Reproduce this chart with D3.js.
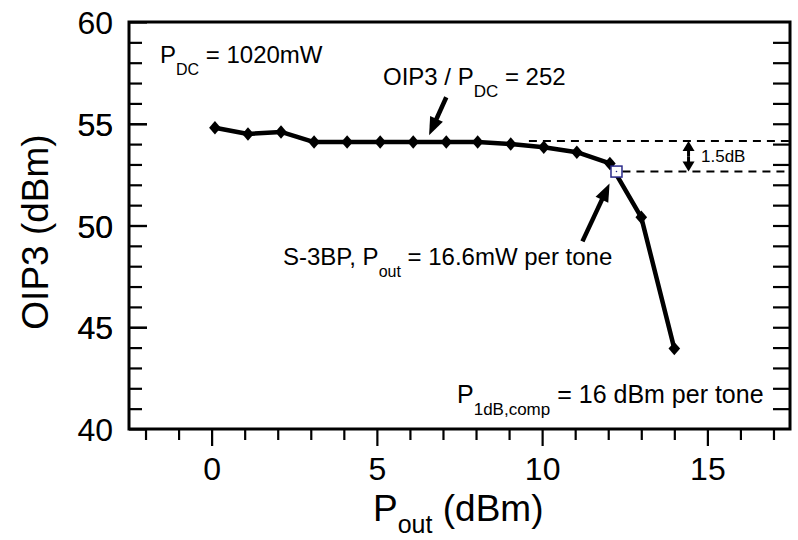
<!DOCTYPE html>
<html>
<head>
<meta charset="utf-8">
<script src="https://cdn.jsdelivr.net/npm/d3@7"></script>
<style>
  html, body { margin: 0; padding: 0; background: #fff; }
  svg { display: block; }
  text { font-family: "Liberation Sans", Arial, sans-serif; fill: #000; }
</style>
</head>
<body>
<svg id="chart" width="798" height="540"></svg>
<script>
// Output power per tone (dBm) and measured OIP3 (dBm)
const poutDbm = [0.1, 1.1, 2.1, 3.1, 4.1, 5.1, 6.1, 7.1, 8.05, 9.05, 10.05, 11.05, 12.05, 13.0, 14.0];
const oip3Dbm = [54.8, 54.5, 54.6, 54.1, 54.1, 54.1, 54.1, 54.1, 54.1, 54.0, 53.85, 53.6, 53.05, 50.4, 43.95];

// Operating point S-3BP and the 1.5 dB reference levels
const opPoint = [12.25, 52.65];
const refLevels = [54.15, 52.65];

// Axis ticks
const xMinorTicks = d3.range(-2, 18);
const xMajorTicks = [0, 5, 10, 15];
const yMinorTicks = d3.range(41, 60);
const yMajorTicks = [40, 45, 50, 55, 60];

const svg = d3.select("#chart");
const margin = { left: 129, right: 8, top: 22, bottom: 111 };
const W = 798, H = 540;
const iw = W - margin.left - margin.right;
const ih = H - margin.top - margin.bottom;

const x = d3.scaleLinear().domain([-2.5, 17.5]).range([0, iw]);
const y = d3.scaleLinear().domain([40, 60]).range([ih, 0]);

const g = svg.append("g").attr("transform", `translate(${margin.left},${margin.top})`);

// Bottom axis: ticks outward, longer at labelled values
const xAxis = g.append("g")
  .attr("transform", `translate(0,${ih})`)
  .call(d3.axisBottom(x).tickValues(xMinorTicks).tickSizeOuter(0)
    .tickFormat(d => xMajorTicks.includes(d) ? d : ""));
xAxis.select(".domain").remove();
xAxis.selectAll(".tick line")
  .attr("stroke", "#000").attr("stroke-width", 2.2)
  .attr("y2", d => xMajorTicks.includes(d) ? 17 : 11);
xAxis.selectAll(".tick text")
  .attr("y", 51).attr("dy", null)
  .style("font-size", "32px");

// Left axis: ticks pointing into the plot
const yAxis = g.append("g")
  .call(d3.axisLeft(y).tickValues(yMinorTicks.concat(yMajorTicks)).tickSizeOuter(0)
    .tickFormat(d => yMajorTicks.includes(d) ? d : ""));
yAxis.select(".domain").remove();
yAxis.selectAll(".tick line")
  .attr("stroke", "#000").attr("stroke-width", 2.2)
  .attr("x2", d => yMajorTicks.includes(d) ? 18 : 13);
yAxis.selectAll(".tick text")
  .attr("x", -16).attr("dy", "0.36em")
  .style("font-size", "32px");

// Right axis: inward ticks, no labels
const yAxisR = g.append("g")
  .attr("transform", `translate(${iw},0)`)
  .call(d3.axisRight(y).tickValues(yMinorTicks).tickSizeOuter(0).tickFormat(""));
yAxisR.select(".domain").remove();
yAxisR.selectAll(".tick line")
  .attr("stroke", "#000").attr("stroke-width", 2.2)
  .attr("x2", -17);

// Plot frame
g.append("rect")
  .attr("x", 0).attr("y", 0).attr("width", iw).attr("height", ih)
  .attr("fill", "none").attr("stroke", "#000").attr("stroke-width", 3);

// Axis titles
svg.append("text")
  .attr("x", 373).attr("y", 521)
  .style("font-size", "37px")
  .call(t => {
    t.append("tspan").text("P");
    t.append("tspan").attr("dy", 12).style("font-size", "25px").text("out");
    t.append("tspan").attr("dy", -12).text(" (dBm)");
  });

svg.append("text")
  .attr("transform", "translate(48,232) rotate(-90)")
  .attr("text-anchor", "middle")
  .style("font-size", "37px")
  .text("OIP3 (dBm)");

// Dashed reference levels marking the 1.5 dB drop
const dashStarts = [9.6, opPoint[0] + 0.18];
g.selectAll(".ref")
  .data(refLevels)
  .join("line")
  .attr("x1", (d, i) => x(dashStarts[i])).attr("x2", x(17.5))
  .attr("y1", d => y(d)).attr("y2", d => y(d))
  .attr("stroke", "#000").attr("stroke-width", 2)
  .attr("stroke-dasharray", "8,6");

// Measured curve
const pts = poutDbm.map((p, i) => [p, oip3Dbm[i]]);
g.append("path")
  .datum(pts)
  .attr("fill", "none").attr("stroke", "#000").attr("stroke-width", 4.5)
  .attr("stroke-linejoin", "round")
  .attr("d", d3.line().x(d => x(d[0])).y(d => y(d[1])));

// Diamond markers
const diamond = {
  draw(ctx, size) {
    const r = Math.sqrt(size) / 2;
    ctx.moveTo(0, -r * 1.1);
    ctx.lineTo(r * 0.95, 0);
    ctx.lineTo(0, r * 1.1);
    ctx.lineTo(-r * 0.95, 0);
    ctx.closePath();
  }
};
g.selectAll(".pt")
  .data(pts)
  .join("path")
  .attr("transform", d => `translate(${x(d[0])},${y(d[1])})`)
  .attr("d", d3.symbol(diamond, 150))
  .attr("fill", "#000");

// Operating point marker
g.append("rect")
  .attr("x", x(opPoint[0]) - 5.5).attr("y", y(opPoint[1]) - 5.5)
  .attr("width", 11).attr("height", 11)
  .attr("fill", "#fff").attr("stroke", "#2a2a8a").attr("stroke-width", 1.5);
g.append("circle")
  .attr("cx", x(opPoint[0])).attr("cy", y(opPoint[1])).attr("r", 0.8)
  .attr("fill", "#2a2a8a");

// Arrow helper: shaft plus filled head, ends given in data units
function arrow(from, to, width, headLen, headW) {
  const x1 = x(from[0]), y1 = y(from[1]), x2 = x(to[0]), y2 = y(to[1]);
  const a = Math.atan2(y2 - y1, x2 - x1);
  const bx = x2 - headLen * Math.cos(a), by = y2 - headLen * Math.sin(a);
  g.append("line")
    .attr("x1", x1).attr("y1", y1).attr("x2", bx + 2 * Math.cos(a)).attr("y2", by + 2 * Math.sin(a))
    .attr("stroke", "#000").attr("stroke-width", width);
  const px = -Math.sin(a) * headW / 2, py = Math.cos(a) * headW / 2;
  g.append("path")
    .attr("d", `M${x2},${y2}L${bx + px},${by + py}L${bx - px},${by - py}Z`)
    .attr("fill", "#000");
}

arrow([7.1, 56.3], [6.58, 54.43], 4.5, 18, 14);
arrow([11.22, 49.22], [12.04, 52.07], 4.5, 18, 14);

// Double-headed 1.5 dB marker
const dbX = 14.43;
arrow([dbX, (refLevels[0] + refLevels[1]) / 2], [dbX, refLevels[0]], 3, 10, 12);
arrow([dbX, (refLevels[0] + refLevels[1]) / 2], [dbX, refLevels[1]], 3, 10, 12);

// Annotation text
function rich(px, py, size, subSize, parts) {
  const t = svg.append("text").attr("x", px).attr("y", py).style("font-size", size + "px");
  let shifted = false;
  parts.forEach(p => {
    const s = t.append("tspan").text(p.t);
    if (p.sub && !shifted) { s.attr("dy", 12).style("font-size", subSize + "px"); shifted = true; }
    else if (!p.sub && shifted) { s.attr("dy", -12); shifted = false; }
  });
}

rich(160, 63, 24, 16, [{ t: "P" }, { t: "DC", sub: true }, { t: " = 1020mW" }]);
rich(383, 85, 24, 17, [{ t: "OIP3 / P" }, { t: "DC", sub: true }, { t: " = 252" }]);
rich(283, 265, 24, 16, [{ t: "S-3BP, P" }, { t: "out", sub: true }, { t: " = 16.6mW per tone" }]);
rich(457, 403, 25, 17, [{ t: "P" }, { t: "1dB,comp", sub: true }, { t: " = 16 dBm per tone" }]);

svg.append("text")
  .attr("x", 701).attr("y", 162)
  .style("font-size", "17px")
  .text("1.5dB");
</script>
</body>
</html>
